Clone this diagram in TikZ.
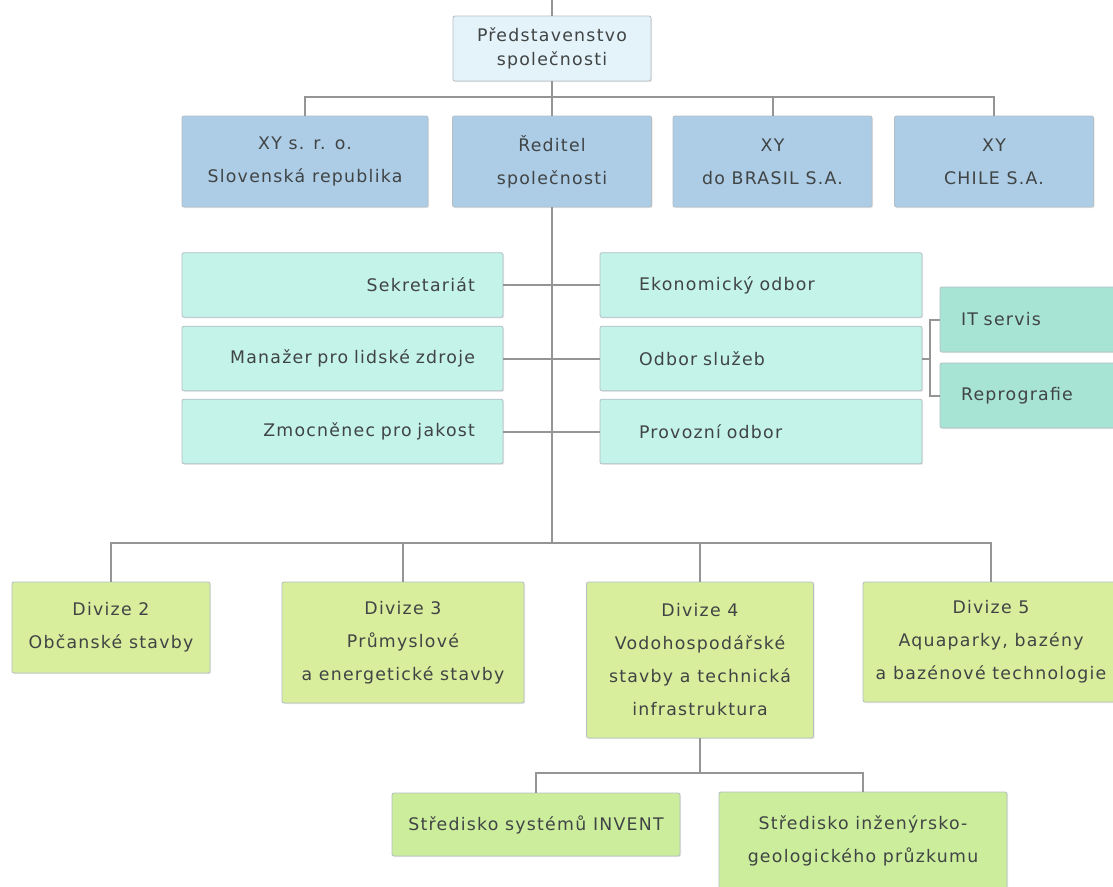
\documentclass[tikz,border=0pt]{standalone}
\usepackage{fontspec}
\setmainfont[LetterSpace=7.2]{DejaVu Sans}
\usetikzlibrary{shadows}
\definecolor{linec}{HTML}{959595}
\definecolor{boxline}{HTML}{B4BEC4}
\definecolor{txt}{HTML}{404444}
\definecolor{topfill}{HTML}{E4F3FA}
\definecolor{bluefill}{HTML}{ADCDE7}
\definecolor{mintfill}{HTML}{C4F3E9}
\definecolor{tealfill}{HTML}{A8E4D4}
\definecolor{divfill}{HTML}{D9EE9C}
\definecolor{subfill}{HTML}{CCEE9C}
\begin{document}
\begin{tikzpicture}[x=0.75pt,y=-0.75pt,
  box/.style={draw=boxline, line width=0.6pt, rounded corners=1.5pt, inner sep=2pt,
    align=center, text=txt, font=\fontsize{13pt}{24.75pt}\selectfont,
    drop shadow={shadow xshift=0.8pt, shadow yshift=-0.8pt, opacity=0.18}},
  topbox/.style={box, fill=topfill, font=\fontsize{13pt}{18pt}\selectfont},
  bluebox/.style={box, fill=bluefill, minimum height=68.25pt},
  leftbox/.style={box, fill=mintfill, minimum height=48.5pt, inner xsep=21pt, text width=198.75pt, align=right},
  rightbox/.style={box, fill=mintfill, minimum height=48.5pt, inner xsep=29.25pt, text width=183pt, align=left},
  tealbox/.style={box, fill=tealfill, minimum height=48.75pt, inner xsep=15.75pt, text width=103.5pt, align=left},
  divbox/.style={box, fill=divfill},
  subbox/.style={box, fill=subfill, minimum width=216pt},
  conn/.style={draw=linec, line width=1.5pt}
]
\useasboundingbox (0,0) rectangle (1113,886);
\fill[white] (0,0) rectangle (1113,886);
\clip (0,0) rectangle (1113,886);

% top
\node[topbox, minimum width=148.5pt, minimum height=48.75pt] (pb) at (552,48.5) {Představenstvo\\společnosti};
\coordinate (topend) at (552,0);

% row 2
\node[bluebox, minimum width=184.5pt] (xysr) at (305,161.5) {XY s. r. o.\\Slovenská republika};
\node[bluebox, minimum width=149.25pt] (red) at (552,161.5) {Ředitel\\společnosti};
\node[bluebox, minimum width=149.25pt] (bra) at (772.5,161.5) {XY\\do BRASIL S.A.};
\node[bluebox, minimum width=149.25pt] (chi) at (994,161.5) {XY\\CHILE S.A.};

% middle staff
\node[leftbox] (sek) at (342.5,285) {Sekretariát};
\node[leftbox] (man) at (342.5,358.5) {Manažer pro lidské zdroje};
\node[leftbox] (zmo) at (342.5,431.5) {Zmocněnec pro jakost};
\node[rightbox] (eko) at (761,285) {Ekonomický odbor};
\node[rightbox] (odb) at (761,358.5) {Odbor služeb};
\node[rightbox] (pro) at (761,431.5) {Provozní odbor};
\node[tealbox] (it) at (1030,319.5) {IT servis};
\node[tealbox] (rep) at (1030,395.5) {Reprografie};

% divisions
\node[divbox, minimum width=148.5pt, minimum height=68.25pt] (d2) at (111,627.5) {Divize 2\\Občanské stavby};
\node[divbox, minimum width=181.5pt, minimum height=90.75pt] (d3) at (403,642.5) {Divize 3\\Průmyslové\\a energetické stavby};
\node[divbox, minimum width=170.25pt, minimum height=117pt] (d4) at (700,660) {Divize 4\\Vodohospodářské\\stavby a technická\\infrastruktura};
\node[divbox, minimum width=192pt, minimum height=90pt] (d5) at (991,642) {Divize 5\\Aquaparky, bazény\\a bazénové technologie};

% sub-units
\node[subbox, minimum height=47.25pt] (s1) at (536,824.5) {Středisko systémů INVENT};
\node[subbox, minimum height=73.5pt] (s2) at (863,841) {Středisko inženýrsko-\\geologického průzkumu};

% bus coordinates
\coordinate (b1) at (552,97);
\coordinate (b2) at (552,543);
\coordinate (b3) at (700,773);
\coordinate (br) at (930,357);

% connectors
\draw[conn] (topend) -- (pb.north);
\draw[conn] (pb.south) -- (pb.south |- b1);
\draw[conn] (xysr.north) -- (xysr.north |- b1) -- (chi.north |- b1) -- (chi.north);
\draw[conn] (red.north) -- (red.north |- b1);
\draw[conn] (bra.north) -- (bra.north |- b1);

\draw[conn] (red.south) -- (red.south |- b2);
\draw[conn] (sek.east) -- (eko.west);
\draw[conn] (man.east) -- (odb.west);
\draw[conn] (zmo.east) -- (pro.west);

\draw[conn] (odb.east) -- (odb.east -| br);
\draw[conn] (it.west) -- (it.west -| br) -- (rep.west -| br) -- (rep.west);

\draw[conn] (d2.north) -- (d2.north |- b2) -- (d5.north |- b2) -- (d5.north);
\draw[conn] (d3.north) -- (d3.north |- b2);
\draw[conn] (d4.north) -- (d4.north |- b2);

\draw[conn] (d4.south) -- (d4.south |- b3);
\draw[conn] (s1.north) -- (s1.north |- b3) -- (s2.north |- b3) -- (s2.north);
\end{tikzpicture}
\end{document}
